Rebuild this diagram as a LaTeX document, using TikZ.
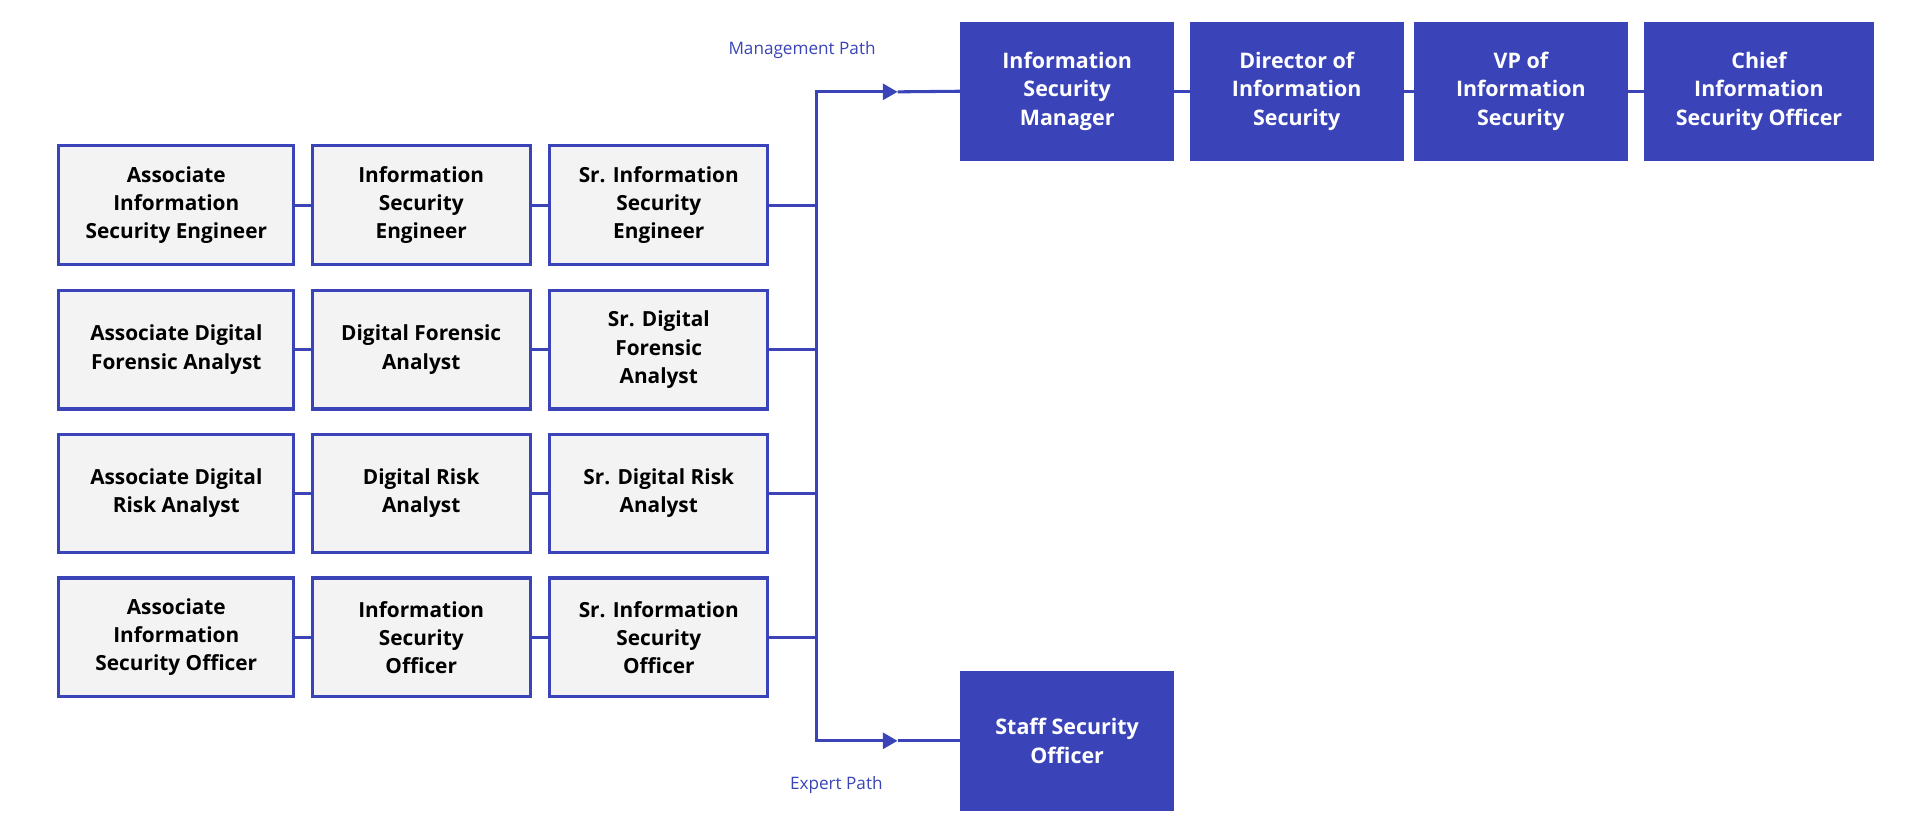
\documentclass[tikz,border=0pt]{standalone}
\usepackage{fontspec}
\setmainfont{Open Sans}
\usetikzlibrary{arrows.meta}
\definecolor{bl}{HTML}{3A44B8}
\definecolor{gr}{HTML}{F3F3F3}
\begin{document}
\begin{tikzpicture}[x=1pt,y=-1pt,
 lbox/.style={draw=bl,line width=2.5pt,fill=gr,minimum height=97pt,align=center,font=\fontsize{17}{23}\selectfont\bfseries,inner sep=2pt},
 dbox/.style={draw=bl,fill=bl,line width=0pt,minimum height=113pt,align=center,text=white,font=\fontsize{17.5}{23.5}\selectfont\bfseries,inner sep=2pt},
 ln/.style={draw=bl,line width=2.5pt},
 lab/.style={text=bl,font=\fontsize{14}{16}\selectfont}]
\useasboundingbox (0,0) rectangle (1568,681);
\def\mkrow#1#2#3#4#5{%
 \node[lbox,minimum width=192pt] (a#1) at (144,#2) {#3};
 \node[lbox,minimum width=178pt] (b#1) at (344,#2) {#4};
 \node[lbox,minimum width=178pt] (c#1) at (538,#2) {#5};
 \draw[ln] (a#1) -- (b#1); \draw[ln] (b#1) -- (c#1);
 \draw[ln] (c#1.east) -- (667,#2);}
\mkrow{1}{167.5}{Associate\\Information\\Security Engineer}{Information\\Security\\Engineer}{Sr. Information\\Security\\Engineer}
\mkrow{2}{285.5}{Associate Digital\\Forensic Analyst}{Digital Forensic\\Analyst}{Sr. Digital\\Forensic\\Analyst}
\mkrow{3}{403}{Associate Digital\\Risk Analyst}{Digital Risk\\Analyst}{Sr. Digital Risk\\Analyst}
\mkrow{4}{520.5}{Associate\\Information\\Security Officer}{Information\\Security\\Officer}{Sr. Information\\Security\\Officer}
\node[dbox,minimum width=174pt] (m1) at (871.5,74.5) {Information\\Security\\Manager};
\node[dbox,minimum width=174pt] (m2) at (1059,74.5) {Director of\\Information\\Security};
\node[dbox,minimum width=174pt] (m3) at (1242,74.5) {VP of\\Information\\Security};
\node[dbox,minimum width=187pt] (m4) at (1436.5,74.5) {Chief\\Information\\Security Officer};
\node[dbox,minimum width=174pt] (s1) at (871.5,605) {Staff Security\\Officer};
\draw[ln] (m1) -- (m2); \draw[ln] (m2) -- (m3); \draw[ln] (m3) -- (m4);
\coordinate (t) at (667,75); \coordinate (b) at (667,605);
\coordinate (ta) at (733,75); \coordinate (ba) at (733,605);
\draw[ln] (t) -- (b);
\draw[ln,-{Triangle[length=12pt,width=13pt]}] (665.75,75) -- (ta);
\draw[ln] (ta) -- (m1.west);
\draw[ln,-{Triangle[length=12pt,width=13pt]}] (665.75,605) -- (ba);
\draw[ln] (ba) -- (s1.west);
\node[lab] (mp) at (655,41) {Management Path};
\node[lab] (ep) at (683,641) {Expert Path};
\end{tikzpicture}
\end{document}
